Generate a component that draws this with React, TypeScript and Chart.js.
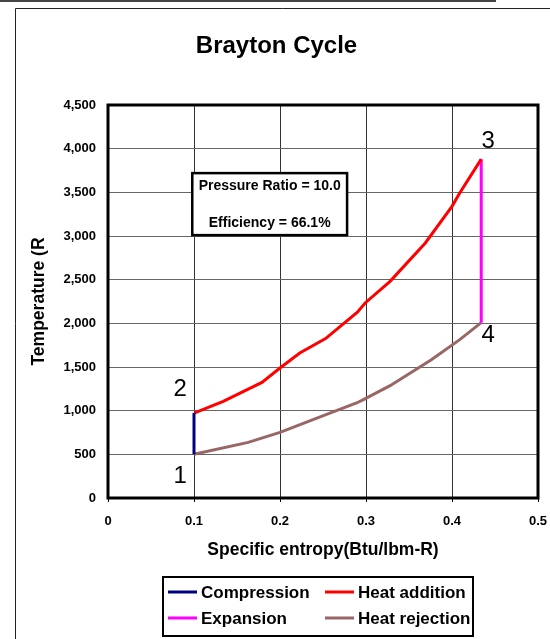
import React, { useEffect, useRef } from 'react';
import { Chart, registerables } from 'chart.js';

Chart.register(...registerables);

const FONT = "'Liberation Sans', Arial, Helvetica, sans-serif";

// ---- data ----
const seriesNames = ['Compression', 'Heat addition', 'Expansion', 'Heat rejection'];
const seriesColors = ['#000080', '#FF0000', '#FF00FF', '#996666'];

const compressionEntropy = [0.1, 0.1];
const compressionTemp = [500, 973];

const heatAdditionEntropy = [0.1, 0.134, 0.179, 0.2, 0.223, 0.253, 0.29, 0.299, 0.328, 0.369, 0.4, 0.409, 0.434];
const heatAdditionTemp = [973, 1106, 1324, 1488, 1660, 1825, 2128, 2233, 2481, 2920, 3340, 3493, 3880];

const expansionEntropy = [0.434, 0.434];
const expansionTemp = [3880, 2008];

const heatRejectionEntropy = [0.1, 0.163, 0.2, 0.258, 0.289, 0.297, 0.328, 0.376, 0.409, 0.434];
const heatRejectionTemp = [500, 637, 751, 973, 1088, 1126, 1286, 1584, 1813, 2008];

const xTickValues = [0, 0.1, 0.2, 0.3, 0.4, 0.5];
const yTickValues = [0, 500, 1000, 1500, 2000, 2500, 3000, 3500, 4000, 4500];

const stateLabels = ['1', '2', '3', '4'];
const stateLabelEntropy = [0.084, 0.084, 0.442, 0.442];
const stateLabelTemp = [252, 1248, 4088, 1866];

const annotationLines = ['Pressure Ratio = 10.0', 'Efficiency = 66.1%'];

const toPoints = (xs: number[], ys: number[]) => xs.map((x, i) => ({ x, y: ys[i] }));

const entropySeries = [compressionEntropy, heatAdditionEntropy, expansionEntropy, heatRejectionEntropy];
const tempSeries = [compressionTemp, heatAdditionTemp, expansionTemp, heatRejectionTemp];

// ---- plugins ----
const pagePlugin = {
  id: 'pageFrame',
  beforeDraw(chart: any) {
    const { ctx, width, height } = chart;
    ctx.save();
    ctx.fillStyle = '#ffffff';
    ctx.fillRect(0, 0, width, height);
    ctx.strokeStyle = '#444';
    ctx.lineWidth = 2;
    ctx.beginPath();
    ctx.moveTo(0, 1);
    ctx.lineTo(496, 1);
    ctx.stroke();
    ctx.strokeStyle = '#222';
    ctx.lineWidth = 1;
    ctx.beginPath();
    ctx.moveTo(15.5, height);
    ctx.lineTo(15.5, 8.5);
    ctx.lineTo(width, 8.5);
    ctx.stroke();
    ctx.restore();
  },
};

const plotBorderPlugin = {
  id: 'plotBorder',
  afterDraw(chart: any) {
    const { ctx, chartArea: a } = chart;
    ctx.save();
    ctx.strokeStyle = '#000';
    ctx.lineWidth = 3;
    ctx.strokeRect(a.left, a.top, a.right - a.left, a.bottom - a.top);
    ctx.restore();
  },
};

const annotationPlugin = {
  id: 'cycleAnnotations',
  afterDatasetsDraw(chart: any) {
    const { ctx, scales } = chart;
    const xs = scales.x;
    const ys = scales.y;
    ctx.save();
    // state point labels
    ctx.fillStyle = '#000';
    ctx.font = `24px ${FONT}`;
    ctx.textAlign = 'center';
    ctx.textBaseline = 'middle';
    stateLabels.forEach((t, i) => {
      ctx.fillText(t, xs.getPixelForValue(stateLabelEntropy[i]), ys.getPixelForValue(stateLabelTemp[i]));
    });
    // info box
    const l = xs.getPixelForValue(0.098);
    const r = xs.getPixelForValue(0.278);
    const top = ys.getPixelForValue(3720);
    const bot = ys.getPixelForValue(3010);
    ctx.fillStyle = '#fff';
    ctx.fillRect(l, top, r - l, bot - top);
    ctx.strokeStyle = '#000';
    ctx.lineWidth = 2.5;
    ctx.strokeRect(l, top, r - l, bot - top);
    ctx.fillStyle = '#000';
    ctx.font = `bold 14px ${FONT}`;
    const cx = (l + r) / 2;
    ctx.fillText(annotationLines[0], cx, ys.getPixelForValue(3573));
    ctx.fillText(annotationLines[1], cx, ys.getPixelForValue(3149));
    ctx.restore();
  },
};

const legendPlugin = {
  id: 'boxLegend',
  afterDraw(chart: any) {
    const { ctx } = chart;
    const ds = chart.data.datasets;
    const boxL = 163, boxT = 577, boxR = 473, boxB = 636;
    const colX = [168, 325];
    const rowY = [592, 618];
    ctx.save();
    ctx.fillStyle = '#fff';
    ctx.fillRect(boxL, boxT, boxR - boxL, boxB - boxT);
    ctx.strokeStyle = '#000';
    ctx.lineWidth = 2;
    ctx.strokeRect(boxL, boxT, boxR - boxL, boxB - boxT);
    ctx.font = `bold 17px ${FONT}`;
    ctx.textAlign = 'left';
    ctx.textBaseline = 'middle';
    ds.forEach((d: any, i: number) => {
      const cx = colX[i % 2];
      const cy = rowY[Math.floor(i / 2)];
      ctx.strokeStyle = d.borderColor;
      ctx.lineWidth = 3;
      ctx.beginPath();
      ctx.moveTo(cx, cy);
      ctx.lineTo(cx + 29, cy);
      ctx.stroke();
      ctx.fillStyle = '#000';
      ctx.fillText(d.label, cx + 33, cy + 1);
    });
    ctx.restore();
  },
};

export default function App() {
  const ref = useRef<HTMLCanvasElement>(null);
  useEffect(() => {
    const chart = new Chart(ref.current as HTMLCanvasElement, {
      type: 'scatter',
      data: {
        datasets: seriesNames.map((name, i) => ({
          label: name,
          data: toPoints(entropySeries[i], tempSeries[i]),
          showLine: true,
          borderColor: seriesColors[i],
          backgroundColor: seriesColors[i],
          borderWidth: 3,
          pointRadius: 0,
          pointHoverRadius: 0,
          tension: 0,
        })),
      },
      options: {
        responsive: false,
        animation: false,
        devicePixelRatio: 1,
        layout: { padding: { left: 15, right: 12, top: 0, bottom: 72 } },
        plugins: {
          legend: { display: false },
          tooltip: { enabled: false },
          title: {
            display: true,
            text: 'Brayton Cycle',
            color: '#000',
            font: { family: FONT, size: 24, weight: 'bold' },
            padding: { top: 32, bottom: 44.2 },
          },
        },
        scales: {
          x: {
            type: 'linear',
            min: 0,
            max: 0.5,
            afterBuildTicks: (s: any) => {
              s.ticks = xTickValues.map((v) => ({ value: v }));
            },
            afterFit: (s: any) => {
              s.height = 69;
              s.paddingLeft = 0;
              s.paddingRight = 0;
            },
            ticks: {
              color: '#000',
              font: { family: FONT, size: 13, weight: 'bold' },
              padding: 12,
              maxRotation: 0,
              callback: (v: any) => (Number(v) === 0 ? '0' : Number(v).toFixed(1)),
            },
            grid: { color: '#333', lineWidth: 1, drawTicks: true, tickLength: 4, tickColor: '#000' },
            border: { display: false },
            title: {
              display: true,
              text: 'Specific entropy(Btu/lbm-R)',
              color: '#000',
              font: { family: FONT, size: 17.5, weight: 'bold' },
              padding: { top: 0, bottom: 6.5 },
            },
          },
          y: {
            type: 'linear',
            min: 0,
            max: 4500,
            afterBuildTicks: (s: any) => {
              s.ticks = yTickValues.map((v) => ({ value: v }));
            },
            afterFit: (s: any) => {
              s.width = 93;
              s.paddingTop = 0;
              s.paddingBottom = 0;
            },
            ticks: {
              color: '#000',
              font: { family: FONT, size: 13, weight: 'bold' },
              padding: 12,
              callback: (v: any) => Number(v).toLocaleString('en-US'),
            },
            grid: { color: '#666', lineWidth: 1, drawTicks: false },
            border: { display: false },
            title: {
              display: true,
              text: 'Temperature (R',
              color: '#000',
              font: { family: FONT, size: 17.5, weight: 'bold' },
              padding: { top: 14, bottom: 0 },
            },
          },
        },
      },
      plugins: [pagePlugin, annotationPlugin, plotBorderPlugin, legendPlugin],
    } as any);
    return () => chart.destroy();
  }, []);
  return (
    <div style={{ position: 'absolute', left: 0, top: 0, width: 550, height: 639 }}>
      <canvas ref={ref} width={550} height={639} style={{ display: 'block' }} />
    </div>
  );
}
